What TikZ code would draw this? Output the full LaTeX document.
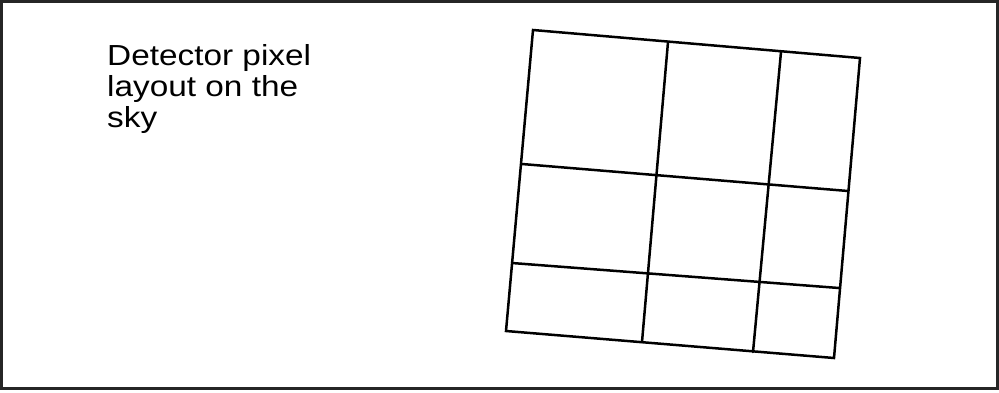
\documentclass[tikz,border=0pt]{standalone}
\usepackage{fontspec}
\setmainfont{Liberation Sans}
\begin{document}
\begin{tikzpicture}[x=1pt,y=-1pt,
  gridline/.style={line width=2.5pt,black,line cap=round,line join=miter},
  frameline/.style={line width=3pt,black!85},
  label/.style={anchor=north west,align=left,inner sep=0pt,xscale=1.15,transform shape,font=\fontsize{29}{31}\selectfont}]
\useasboundingbox (0,0) rectangle (999,392);
\draw[frameline] (1.5,1.5) rectangle (997,388.5);
% corners
\coordinate (A) at (533,30);
\coordinate (B) at (860,58);
\coordinate (C) at (834,358);
\coordinate (D) at (506,331);
% vertical divisions
\coordinate (t1) at (668,42);
\coordinate (t2) at (781,52);
\coordinate (b1) at (642,342);
\coordinate (b2) at (753,352);
% horizontal divisions
\coordinate (l1) at (522,164);
\coordinate (r1) at (848,191);
\coordinate (l2) at (512,263);
\coordinate (r2) at (839,288);
\draw[gridline] (A) -- (B) -- (C) -- (D) -- cycle;
\draw[gridline] (t1) -- (b1);
\draw[gridline] (t2) -- (b2);
\draw[gridline] (l1) -- (r1);
\draw[gridline] (l2) -- (r2);
\node[label] (title) at (107,44) {Detector pixel\\layout on the\\sky};
\end{tikzpicture}
\end{document}
